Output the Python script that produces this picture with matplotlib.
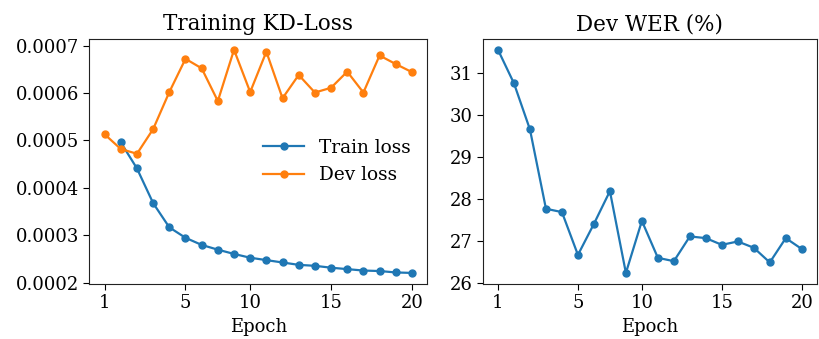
import matplotlib.pyplot as plt

plt.rcParams['font.family'] = 'DejaVu Serif'

# epoch labels shown on the x axis and where they sit among the 20 points
epoch_ticks = [0, 5, 9, 14, 19]
epoch_labels = [1, 5, 10, 15, 20]

dev_loss = [0.000513, 0.000482, 0.000472, 0.000524, 0.000602, 0.000672, 0.000652,
            0.000583, 0.000691, 0.000602, 0.000687, 0.000589, 0.000638, 0.000601,
            0.000611, 0.000645, 0.000601, 0.000679, 0.000661, 0.000644]
train_loss = [0.000496, 0.000441, 0.000368, 0.000317, 0.000295, 0.000280,
              0.000270, 0.000261, 0.000253, 0.000248, 0.000243, 0.000238,
              0.000236, 0.000232, 0.000229, 0.000226, 0.000225, 0.000222, 0.000221]
dev_wer = [31.56, 30.76, 29.66, 27.77, 27.69, 26.67, 27.41, 28.19, 26.24, 27.48,
           26.60, 26.52, 27.11, 27.07, 26.91, 26.99, 26.84, 26.49, 27.07, 26.81]

fig = plt.figure(figsize=(8.19, 3.39), dpi=100)
ax1 = fig.add_axes([0.109, 0.162, 0.4127, 0.724])
ax2 = fig.add_axes([0.5895, 0.162, 0.408, 0.724])

style = dict(marker='o', markersize=5, linewidth=1.6)
ax1.plot(range(1, 20), train_loss, color='#1f77b4', label='Train loss', **style)
ax1.plot(range(20), dev_loss, color='#ff7f0e', label='Dev loss', **style)
ax1.set_title('Training KD-Loss', fontsize=15.5)
ax1.set_yticks([0.0002, 0.0003, 0.0004, 0.0005, 0.0006, 0.0007])
ax1.set_yticklabels(['0.0002', '0.0003', '0.0004', '0.0005', '0.0006', '0.0007'])
ax1.legend(loc='center right', frameon=False, fontsize=13.3, handlelength=2.2)

ax2.plot(range(20), dev_wer, color='#1f77b4', **style)
ax2.set_title('Dev WER (%)', fontsize=15.5)
ax2.set_yticks([26, 27, 28, 29, 30, 31])

for ax in (ax1, ax2):
    ax.set_xticks(epoch_ticks)
    ax.set_xticklabels(epoch_labels)
    ax.set_xlabel('Epoch', fontsize=13)
    ax.tick_params(labelsize=13, length=4, direction='out')
    for s in ax.spines.values():
        s.set_color('#222222')

fig.savefig('out.png', dpi=100)
